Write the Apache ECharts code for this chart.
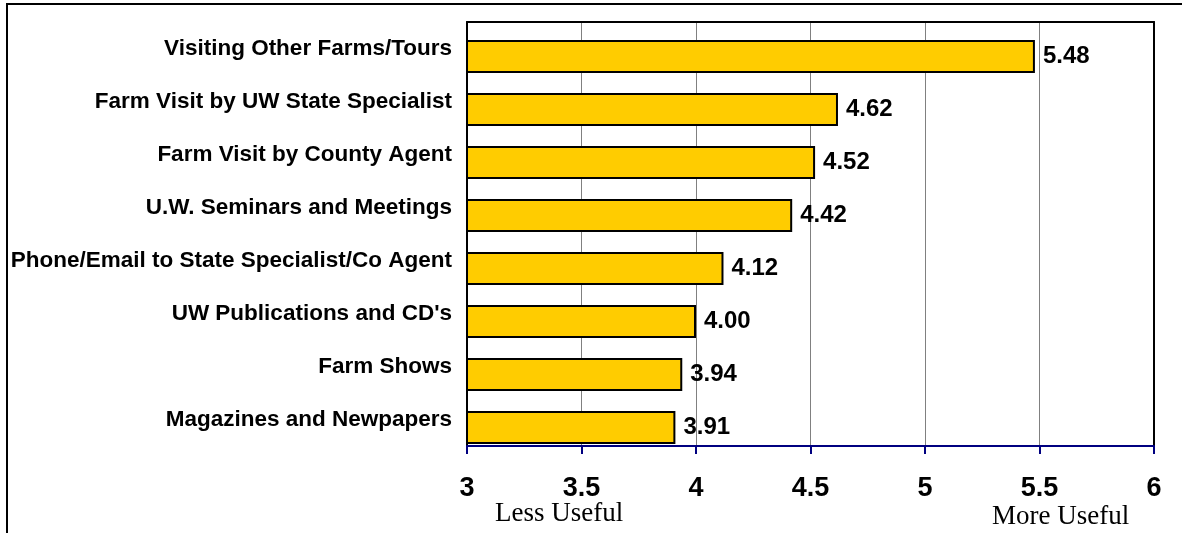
<!DOCTYPE html>
<html>
<head>
<meta charset="utf-8">
<script src="https://cdn.jsdelivr.net/npm/echarts@6/dist/echarts.min.js"></script>
<style>
html,body{margin:0;padding:0;background:#fff;}
#chart{width:1182px;height:533px;}
</style>
</head>
<body>
<div id="chart"></div>
<script>
const categories = [
  'Visiting Other Farms/Tours',
  'Farm Visit by UW State Specialist',
  'Farm Visit by County Agent',
  'U.W. Seminars and Meetings',
  'Phone/Email to State Specialist/Co Agent',
  'UW Publications and CD\'s',
  'Farm Shows',
  'Magazines and Newpapers'
];
const values = [5.48, 4.62, 4.52, 4.42, 4.12, 4.00, 3.94, 3.91];
const tickMin = 3, tickMax = 6, tickStep = 0.5;
const lessLabel = 'Less Useful';
const moreLabel = 'More Useful';

const chart = echarts.init(document.getElementById('chart'), null, {renderer: 'canvas'});
const sans = '"Liberation Sans", Arial, sans-serif';
const serif = '"Liberation Serif", "Times New Roman", serif';

const option = {
  backgroundColor: '#fff',
  animation: false,
  grid: [
    {left: 467, right: 28, top: 22, height: 424, containLabel: false},
    {left: 467, right: 28, top: 30, height: 424, containLabel: false}
  ],
  xAxis: [
    {
      gridIndex: 0, type: 'value', position: 'bottom',
      min: tickMin, max: tickMax, interval: tickStep,
      axisLine: {show: true, lineStyle: {color: '#000080', width: 2}},
      axisTick: {show: true, length: 8, inside: false, lineStyle: {color: '#000080', width: 2}},
      axisLabel: {show: true, margin: 29, fontFamily: sans, fontWeight: 'bold', fontSize: 27, color: '#000',
        formatter: v => String(v)},
      splitLine: {show: true, lineStyle: {color: '#808080', width: 1}}
    },
    {
      gridIndex: 0, type: 'value', position: 'top',
      min: tickMin, max: tickMax, interval: tickStep,
      axisLine: {show: true, lineStyle: {color: '#000', width: 2}},
      axisTick: {show: false}, axisLabel: {show: false}, splitLine: {show: false}
    },
    {
      gridIndex: 1, type: 'value', show: false,
      min: tickMin, max: tickMax, interval: tickStep
    }
  ],
  yAxis: [
    {
      gridIndex: 0, type: 'category', data: categories, inverse: true, position: 'left',
      axisLine: {show: true, onZero: false, lineStyle: {color: '#000', width: 2}},
      axisTick: {show: false},
      axisLabel: {show: true, margin: 15, fontFamily: sans, fontWeight: 'bold', fontSize: 22.5, color: '#000'},
      splitLine: {show: false}
    },
    {
      gridIndex: 0, type: 'category', data: categories, inverse: true, position: 'right',
      axisLine: {show: true, onZero: false, lineStyle: {color: '#000', width: 2}},
      axisTick: {show: false}, axisLabel: {show: false}, splitLine: {show: false}
    },
    {
      gridIndex: 1, type: 'category', data: categories, inverse: true, show: false
    }
  ],
  series: [{
    type: 'bar',
    xAxisIndex: 2, yAxisIndex: 2,
    data: values,
    barWidth: 33,
    itemStyle: {color: '#FFCC00', borderColor: '#000', borderWidth: 2},
    label: {
      show: true, position: 'right', distance: 8,
      fontFamily: sans, fontWeight: 'bold', fontSize: 24, color: '#000',
      formatter: p => p.value.toFixed(2)
    },
    z: 3
  }],
  graphic: [
    {type: 'rect', shape: {x: 7, y: 4, width: 1200, height: 600},
     style: {fill: 'none', stroke: '#000', lineWidth: 2}, silent: true},
    {type: 'text', left: 495, top: 500,
     style: {text: lessLabel, font: '27px ' + serif, fill: '#000'}},
    {type: 'text', left: 992, top: 503,
     style: {text: moreLabel, font: '27px ' + serif, fill: '#000'}}
  ]
};
chart.setOption(option);
</script>
</body>
</html>
